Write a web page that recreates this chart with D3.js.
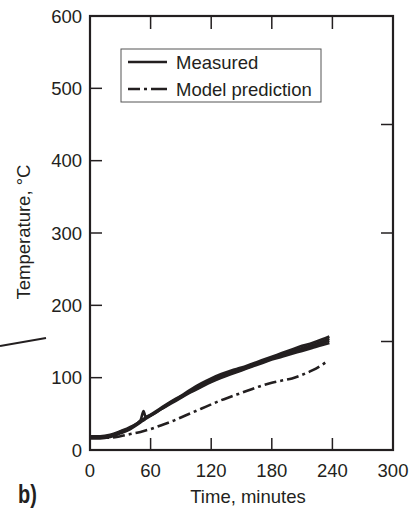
<!DOCTYPE html>
<html><head><meta charset="utf-8">
<script src="https://cdn.jsdelivr.net/npm/d3@7"></script>
<style>
html,body{margin:0;padding:0;background:#fff;}
svg text{font-family:"Liberation Sans",Arial,Helvetica,sans-serif;fill:#231f20;}
</style></head>
<body><svg id="chart" width="409" height="508"></svg>
<script>
// ---- data ----
const xTicks = [0, 60, 120, 180, 240, 300];
const yTicks = [0, 100, 200, 300, 400, 500, 600];
const rightTicks = [150, 300, 450];
const measTimes = [0, 10, 20, 30, 40, 50, 53, 55, 60, 70, 80, 90, 100, 110, 120, 130, 140, 150, 160, 170, 180, 190, 200, 210, 220, 230, 237];
const measured1 = [18, 18, 20, 25, 31, 40, 43, 45, 49, 58, 67, 75, 84, 92, 99, 105, 110, 114, 119, 124, 129, 134, 139, 144, 148, 153, 157];
const measured2 = [17, 17, 19, 24, 30, 39, 42, 44, 48, 57, 66, 74, 82, 90, 97, 103, 108, 112, 117, 122, 127, 132, 137, 141, 145, 150, 154];
const measured3 = [16, 16, 18, 23, 29, 38, 41, 43, 47, 56, 65, 73, 81, 88, 95, 101, 106, 111, 116, 121, 126, 131, 135, 139, 143, 148, 151];
const measured4 = [19, 19, 21, 26, 32, 41, 54, 46, 48, 56, 64, 72, 80, 87, 94, 100, 105, 110, 115, 120, 125, 129, 133, 137, 141, 145, 148];
const modelTimes = [0, 10, 20, 30, 40, 50, 60, 70, 80, 90, 100, 110, 120, 130, 140, 150, 160, 170, 180, 190, 200, 210, 220, 230, 236];
const modelValues = [17, 17, 17, 19, 22, 25, 29, 34, 39, 45, 51, 57, 63, 69, 74, 79, 84, 89, 93, 96, 99, 104, 110, 118, 124];
const legendLabels = ["Measured", "Model prediction"];

const svg = d3.select("#chart");
const L = 90, R = 393, T = 16, B = 450;
const x = d3.scaleLinear().domain([0, 300]).range([L, R]);
const y = d3.scaleLinear().domain([0, 600]).range([B, T]);
const ink = "#231f20";
const fs = 18.5;

// stray partial line from neighbouring panel
svg.append("line").attr("x1", 0).attr("y1", 346).attr("x2", 46).attr("y2", 338)
  .attr("stroke", ink).attr("stroke-width", 2);

// inner ticks
const tl = 12;
svg.append("g").selectAll("line").data(yTicks.slice(1, -1)).join("line")
  .attr("x1", L).attr("x2", L + tl).attr("y1", d => y(d)).attr("y2", d => y(d))
  .attr("stroke", ink).attr("stroke-width", 1.5);
svg.append("g").selectAll("line").data(rightTicks).join("line")
  .attr("x1", R - tl).attr("x2", R).attr("y1", d => y(d)).attr("y2", d => y(d))
  .attr("stroke", ink).attr("stroke-width", 1.5);
svg.append("g").selectAll("line").data(xTicks.slice(1, -1)).join("line")
  .attr("x1", d => x(d)).attr("x2", d => x(d)).attr("y1", B).attr("y2", B - tl)
  .attr("stroke", ink).attr("stroke-width", 1.5);
svg.append("g").selectAll("line").data(xTicks.slice(1, -1)).join("line")
  .attr("x1", d => x(d)).attr("x2", d => x(d)).attr("y1", T).attr("y2", T + tl + 1)
  .attr("stroke", ink).attr("stroke-width", 1.5);

// frame
svg.append("rect").attr("x", L).attr("y", T).attr("width", R - L).attr("height", B - T)
  .attr("fill", "none").attr("stroke", ink).attr("stroke-width", 2.2);

// tick labels
svg.append("g").selectAll("text").data(yTicks).join("text")
  .attr("x", L - 8).attr("y", d => y(d)).attr("dy", "0.36em")
  .attr("text-anchor", "end").attr("font-size", fs).text(d => d);
svg.append("g").selectAll("text").data(xTicks).join("text")
  .attr("x", d => x(d)).attr("y", 477)
  .attr("text-anchor", "middle").attr("font-size", fs).text(d => d);

// axis titles
svg.append("text").attr("x", 248).attr("y", 503).attr("text-anchor", "middle")
  .attr("font-size", fs).text("Time, minutes");
svg.append("text").attr("transform", "translate(30,232) rotate(-90)").attr("text-anchor", "middle")
  .attr("font-size", fs).text("Temperature, °C");
svg.append("text").attr("transform", "translate(18,503) scale(0.8,1)").attr("font-size", 25).attr("font-weight", "bold")
  .text("b)");

// data lines
const line = d3.line().x(d => x(d[0])).y(d => y(d[1])).curve(d3.curveMonotoneX);
[measured1, measured2, measured3, measured4].forEach(s => {
  svg.append("path").datum(measTimes.map((t, i) => [t, s[i]]))
    .attr("d", line).attr("fill", "none").attr("stroke", ink).attr("stroke-width", 2.6)
    .attr("stroke-linejoin", "round");
});
svg.append("path").datum(modelTimes.map((t, i) => [t, modelValues[i]]))
  .attr("d", line).attr("fill", "none").attr("stroke", ink).attr("stroke-width", 2.6)
  .attr("stroke-dasharray", "12,4,3,4");

// legend
const lg = svg.append("g");
lg.append("rect").attr("x", 121).attr("y", 49).attr("width", 200).attr("height", 53)
  .attr("fill", "#fff").attr("stroke", "#555").attr("stroke-width", 1);
legendLabels.forEach((lab, i) => {
  const yy = 62 + i * 27;
  lg.append("line").attr("x1", 128).attr("x2", 167).attr("y1", yy).attr("y2", yy)
    .attr("stroke", ink).attr("stroke-width", 2.6)
    .attr("stroke-dasharray", i === 1 ? "12,4,3,4,16" : null);
  lg.append("text").attr("x", 176).attr("y", yy).attr("dy", "0.36em")
    .attr("font-size", fs).text(lab);
});
</script></body></html>
